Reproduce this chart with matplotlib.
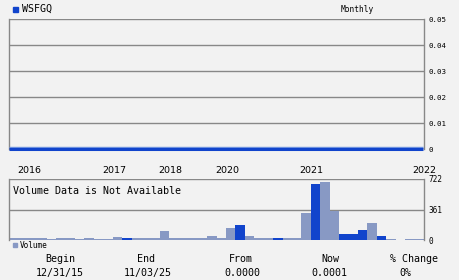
import matplotlib
matplotlib.use("Agg")
import matplotlib.pyplot as plt
import matplotlib.patheffects as pe
import numpy as np

# ---- data ----
ticker = "WSFGQ"
period = "Monthly"
price = [0.0, 0.0, 0.0, 0.0, 0.0, 0.0, 0.0, 0.0, 0.0, 0.0, 0.0,
         0.0, 0.0, 0.0, 0.0, 0.0, 0.0, 0.0, 0.0, 0.0, 0.0, 0.0,
         0.0, 0.0, 0.0, 0.0, 0.0, 0.0, 0.0, 0.0, 0.0, 0.0, 0.0,
         0.0, 0.0, 0.0, 0.0, 0.0, 0.0, 0.0, 0.0, 0.0, 0.0, 0.0]
volume = [27, 27, 27, 20, 8, 24, 24, 8, 24, 15, 15,
          35, 18, 20, 20, 27, 107, 20, 20, 18, 18, 47,
          24, 146, 178, 47, 18, 18, 18, 18, 18, 323, 663,
          690, 347, 71, 71, 118, 201, 47, 12, 5, 12, 12]
# 1 = up month (dark blue), 0 = down month (light)
vol_dir = [0, 0, 0, 0, 0, 0, 0, 0, 0, 0, 0,
           0, 1, 0, 0, 0, 0, 0, 0, 0, 0, 0,
           0, 0, 1, 0, 0, 0, 1, 0, 0, 0, 1,
           0, 0, 1, 1, 1, 0, 1, 0, 0, 0, 0]
year_labels = ["2016", "2017", "2018", "2020", "2021", "2022"]
year_pos = [2.07, 10.9, 16.7, 22.7, 31.4, 43.1]
price_ticks = [0, 0.01, 0.02, 0.03, 0.04, 0.05]
price_tick_labels = ["0", "0.01", "0.02", "0.03", "0.04", "0.05"]
vol_ticks = [0, 361, 722]
summary_heads = ["Begin", "End", "From", "Now", "% Change"]
summary_vals = ["12/31/15", "11/03/25", "0.0000", "0.0001", "0%"]

BG = "#f2f2f2"
GRID = "#888888"
DARK = "#1144cc"
LIGHT = "#8899c4"
W, H = 460, 280

fig = plt.figure(figsize=(W / 100, H / 100), dpi=100, facecolor=BG)

def ax_rect(x0, y0, x1, y1):
    return [x0 / W, 1 - y1 / H, (x1 - x0) / W, (y1 - y0) / H]

mono = "DejaVu Sans Mono"

# ---- price panel ----
ax = fig.add_axes(ax_rect(9, 19, 424, 149), facecolor=BG)
n = len(price)
x = np.arange(n)
ax.set_xlim(0, n - 1)
ax.set_ylim(0, 0.05)
for t in price_ticks:
    ax.axhline(t, color=GRID, lw=1.0, zorder=1)
for s in ["top", "bottom"]:
    ax.spines[s].set_visible(False)
for s in ["left", "right"]:
    ax.spines[s].set_color(GRID)
    ax.spines[s].set_linewidth(1.0)
ax.plot(x, price, color=DARK, lw=2.2, zorder=3, clip_on=False,
        solid_capstyle="butt",
        path_effects=[pe.Stroke(linewidth=1.0, foreground="#6f94e0", offset=(0, 1.6)), pe.Normal()])
ax.yaxis.tick_right()
ax.set_yticks(price_ticks)
ax.set_yticklabels(price_tick_labels, fontfamily=mono, fontsize=5.4)
ax.tick_params(axis="y", length=0, pad=3)
ax.set_xticks(year_pos)
ax.set_xticklabels(year_labels, fontfamily="DejaVu Sans", fontsize=6.8)
ax.tick_params(axis="x", length=0, pad=12)

# ---- volume panel ----
av = fig.add_axes(ax_rect(9, 179, 424, 240), facecolor=BG)
av.set_xlim(-0.5, n - 0.5)
av.set_ylim(0, 722)
av.axhline(361, color=GRID, lw=1.0, zorder=1)
av.axhline(722, color=GRID, lw=1.0, zorder=1)
for s in ["top", "bottom"]:
    av.spines[s].set_visible(False)
for s in ["left", "right"]:
    av.spines[s].set_color(GRID)
    av.spines[s].set_linewidth(1.0)
colors = [DARK if d else LIGHT for d in vol_dir]
av.bar(x, volume, width=1.0, color=colors, zorder=2, clip_on=False)
av.yaxis.tick_right()
av.set_yticks(vol_ticks)
av.set_yticklabels([str(v) for v in vol_ticks], fontfamily=mono, fontsize=5.6,
                   va="center_baseline")
av.tick_params(axis="y", length=0, pad=3)
av.set_xticks([])
av.text(0.01, 0.8, "Volume Data is Not Available", transform=av.transAxes,
        fontfamily=mono, fontsize=7.2, va="center", ha="left")

# ---- header ----
def fx(px):
    return px / W
def fy(py):
    return 1 - py / H

fig.patches.append(plt.Rectangle((fx(13), fy(11.5)), 4.5 / W, 4.5 / H, transform=fig.transFigure,
                                 color=DARK, figure=fig))
fig.text(fx(22), fy(9), ticker, fontfamily=mono, fontsize=7.2, va="center", ha="left")
fig.text(fx(357), fy(9), period, fontfamily=mono, fontsize=5.7, va="center", ha="center")

# ---- legend ----
fig.patches.append(plt.Rectangle((fx(13), fy(247)), 4 / W, 4 / H, transform=fig.transFigure,
                                 color=LIGHT, figure=fig))
fig.text(fx(20), fy(245), "Volume", fontfamily=mono, fontsize=5.6, va="center", ha="left")

# ---- summary ----
head_x = [60.5, 146, 241, 330.5, 414]
val_x = [59.5, 147.5, 242, 329, 405.5]
for hx, vx, hd, vl in zip(head_x, val_x, summary_heads, summary_vals):
    fig.text(fx(hx), fy(259), hd, fontfamily=mono, fontsize=7.2, va="center", ha="center")
    fig.text(fx(vx), fy(273), vl, fontfamily=mono, fontsize=7.2, va="center", ha="center")

fig.savefig("out.png", dpi=100, facecolor=BG)
